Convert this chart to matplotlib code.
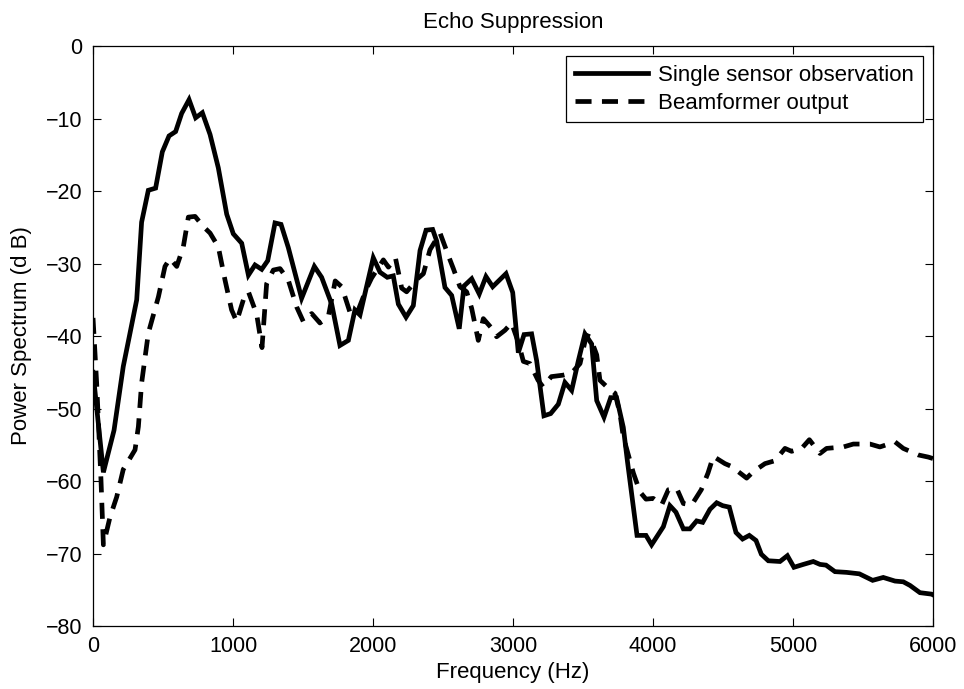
import matplotlib
matplotlib.use("Agg")
import matplotlib.pyplot as plt

plt.rcParams['font.family'] = ['Liberation Sans', 'DejaVu Sans']

title = "Echo Suppression"
xlabel = "Frequency (Hz)"
ylabel = "Power Spectrum (d B)"
legend_labels = ["Single sensor observation", "Beamformer output"]

single_freq = [0, 74, 150, 216, 260, 312, 347, 395, 447, 495, 543, 590, 633, 686, 733, 781,
               836, 895, 955, 1002, 1062, 1110, 1157, 1205, 1248, 1300, 1343, 1395, 1490, 1581,
               1633, 1705, 1764, 1824, 1871, 1907, 2002, 2050, 2102, 2145, 2181, 2236, 2288,
               2336, 2379, 2426, 2455, 2514, 2562, 2616, 2650, 2705, 2759, 2807, 2855, 2950,
               2998, 3038, 3079, 3133, 3169, 3221, 3269, 3324, 3371, 3419, 3467, 3514, 3562,
               3598, 3650, 3698, 3740, 3788, 3817, 3886, 3950, 3990, 4074, 4121, 4164, 4217,
               4264, 4312, 4355, 4407, 4455, 4498, 4545, 4593, 4640, 4688, 4736, 4774, 4824,
               4907, 4960, 5007, 5074, 5145, 5193, 5236, 5300, 5383, 5474, 5569, 5645, 5729,
               5788, 5836, 5907, 5990, 6000]
single_db = [-45.0, -58.8, -53.0, -44.2, -40.0, -35.0, -24.3, -19.9, -19.6, -14.6, -12.4, -11.8,
             -9.3, -7.4, -9.9, -9.2, -12.2, -16.8, -23.2, -25.9, -27.2, -31.6, -30.2, -30.8,
             -29.6, -24.4, -24.6, -27.8, -34.8, -30.4, -31.9, -35.6, -41.3, -40.6, -36.4, -37.1,
             -29.2, -31.2, -31.9, -31.7, -35.6, -37.4, -35.8, -28.2, -25.4, -25.3, -26.9, -33.3,
             -34.4, -39.0, -33.1, -32.1, -34.2, -31.8, -33.2, -31.4, -34.0, -42.3, -39.8, -39.7,
             -43.4, -51.0, -50.7, -49.4, -46.4, -47.5, -43.4, -39.7, -41.1, -48.9, -51.2, -48.5,
             -48.5, -52.6, -57.2, -67.5, -67.5, -68.8, -66.3, -63.4, -64.3, -66.6, -66.6, -65.5,
             -65.7, -63.9, -63.0, -63.4, -63.6, -67.1, -68.0, -67.5, -68.2, -70.1, -71.0, -71.1,
             -70.3, -71.9, -71.5, -71.1, -71.5, -71.6, -72.5, -72.6, -72.8, -73.7, -73.3, -73.8,
             -73.9, -74.4, -75.4, -75.6, -75.7]

beam_freq = [0, 26, 57, 74, 121, 169, 216, 300, 324, 347, 395, 467, 514, 550, 598, 645, 681,
             729, 788, 836, 895, 943, 990, 1026, 1074, 1110, 1169, 1207, 1240, 1288, 1336, 1395,
             1455, 1502, 1562, 1621, 1681, 1730, 1776, 1800, 1840, 1895, 1955, 1990, 2074, 2110,
             2160, 2205, 2240, 2324, 2360, 2407, 2479, 2502, 2550, 2574, 2621, 2669, 2705, 2752,
             2788, 2860, 2883, 2943, 2990, 3040, 3074, 3121, 3179, 3214, 3274, 3357, 3419, 3479,
             3524, 3550, 3598, 3621, 3681, 3729, 3764, 3788, 3860, 3907, 3950, 4002, 4062, 4110,
             4169, 4217, 4276, 4345, 4393, 4431, 4514, 4562, 4669, 4717, 4800, 4871, 4943, 4990,
             5062, 5117, 5193, 5240, 5360, 5431, 5550, 5621, 5729, 5788, 5895, 5967, 6000]
beam_db = [-37.5, -46.5, -59.9, -68.8, -65.0, -62.2, -58.4, -55.7, -52.5, -46.5, -39.6, -34.6,
           -30.4, -29.3, -30.4, -27.7, -23.6, -23.5, -24.9, -25.8, -27.7, -32.3, -36.4, -38.0,
           -35.0, -33.9, -37.0, -41.6, -32.8, -30.9, -30.7, -32.3, -36.0, -38.0, -36.9, -38.2,
           -37.3, -32.4, -33.2, -34.6, -37.0, -36.4, -33.4, -32.0, -29.5, -30.5, -29.2, -33.4,
           -33.9, -32.0, -31.4, -28.1, -25.8, -27.0, -29.5, -30.7, -33.2, -33.9, -36.2, -40.6,
           -37.6, -39.2, -40.1, -39.2, -38.2, -41.0, -43.5, -43.8, -46.1, -47.0, -45.6, -45.4,
           -45.1, -43.8, -39.9, -40.1, -42.6, -46.1, -47.2, -47.9, -50.7, -53.9, -58.9, -61.5,
           -62.5, -62.4, -63.3, -61.2, -61.0, -63.1, -63.3, -61.2, -58.9, -56.6, -57.6, -58.0,
           -59.6, -58.7, -57.6, -57.2, -55.5, -55.9, -55.5, -54.3, -56.2, -55.5, -55.3, -54.9,
           -54.9, -55.3, -54.6, -55.5, -56.4, -56.7, -56.9]

xticks = [0, 1000, 2000, 3000, 4000, 5000, 6000]
yticks = [-80, -70, -60, -50, -40, -30, -20, -10, 0]

fig = plt.figure(figsize=(9.64, 6.89), dpi=100)
ax = fig.add_axes([0.0965, 0.0914, 0.8713, 0.8418])

ax.plot(single_freq, single_db, color='black', lw=3.4, solid_joinstyle='miter',
        label=legend_labels[0])
ax.plot(beam_freq, beam_db, color='black', lw=3.4, linestyle=(0, (3.4, 2.2)),
        label=legend_labels[1])

ax.set_xlim(0, 6000)
ax.set_ylim(-80, 0)
ax.set_xticks(xticks)
ax.set_yticks(yticks)
ax.set_yticklabels([str(v).replace('-', '\u2212') for v in yticks])
ax.tick_params(direction='in', top=True, right=True, length=6, width=0.8, labelsize=15.5,
               pad=7.5)
for s in ax.spines.values():
    s.set_linewidth(0.9)

ax.set_title(title, fontsize=16, pad=13)
ax.set_xlabel(xlabel, fontsize=16, labelpad=3)
ax.set_ylabel(ylabel, fontsize=16, labelpad=10)

leg = ax.legend(loc='upper right', fontsize=16, handlelength=3.3, fancybox=False,
                framealpha=1, edgecolor='black', borderaxespad=0.45, handletextpad=0.45,
                borderpad=0.4, labelspacing=0.3)
leg.get_frame().set_linewidth(0.9)

fig.savefig("out.png", dpi=100)
